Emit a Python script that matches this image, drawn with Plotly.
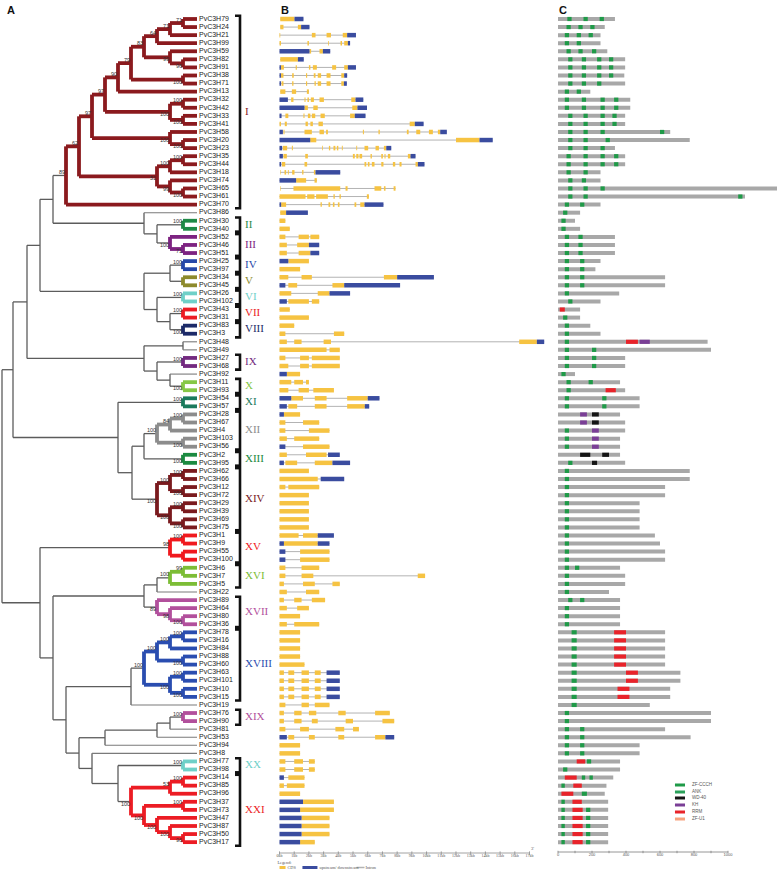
import plotly.graph_objects as go

# ---------------- data ----------------
LEAF_IDS = [79, 24, 21, 99, 59, 82, 91, 38, 71, 13, 32, 42, 33, 41, 58, 20, 23, 35, 44, 18,
            74, 65, 61, 70, 86, 30, 40, 52, 46, 51, 25, 97, 34, 45, 26, 102, 43, 31, 83, 3,
            48, 49, 27, 68, 92, 11, 93, 54, 57, 28, 67, 4, 103, 56, 2, 95, 62, 66, 12, 72,
            29, 39, 69, 75, 1, 9, 55, 100, 6, 7, 5, 22, 89, 64, 80, 36, 78, 16, 84, 88,
            60, 63, 101, 10, 15, 19, 76, 90, 81, 53, 94, 8, 77, 98, 14, 85, 96, 37, 73, 47,
            87, 50, 17]
LEAF_LABELS = ["PvC3H%d" % i for i in LEAF_IDS]

# Newick-like tree: (children)bootstrap:node_depth
T_I = ("((((((((((79,24)71:183,21)71:170,99)64:157,(59,(82,91)96:183)99:170)83:144,(38,71)100:183)79:131,13)90:118,"
       "((32,42)100:183,(33,41)100:183)100:170)97:105,(58,(20,23)100:183)100:170)97:92,"
       "(((35,44)100:183,18)100:170,(74,(65,61)100:183)99:170)51:157)62:79,70)89:66")
T_G1 = "(86,((30,40)100:183,(52,(46,51)71:183)100:170):157):144"
T_G2 = "(((25,97)100:183,(34,45):183):170,((26,102)100:183,((43,31)100:183,(83,3)100:183):170):157):144"
T_G3 = "((48,49):183,((27,68)100:183,(92,(11,93)100:183):170):157):144"
T_XII = "(((28,67)100:183,4)84:170,(103,56)100:183)100:157"
T_XIV = "(((62,66)100:183,(12,72)100:183)100:170,((29,39)100:183,(69,75)100:183)100:170)100:157"
T_A = ("(((" + T_I + "," + T_G1 + "):53," + T_G2 + "):40," + T_G3 + "):27,"
       + "((54,57)100:183,((" + T_XII + ",(2,95)100:183):144," + T_XIV + "):132):118")
T_XV = "((1,9)100:183,(55,100):183)98:170"
T_XVI = "((((6,7)99:183,5)100:170,22):157,(89,(64,(80,36)100:183)98:170)89:157):144"
T_XVIII = ("((((78,16)100:183,84)100:170,(88,60)100:183)100:157,"
           "((63,101)100:183,(10,15)100:183)100:170)100:144")
T_XXI = "(((14,85)100:183,96)53:170,((37,73)100:183,(47,(87,(50,17)96:183)100:170)100:157)100:144)100:131"
T_LOW = ("((" + T_XVIII + ",19):131,(((((76,90)100:183,81):170,53):157,94):105,"
         + "(8,((77,98)100:183," + T_XXI + "):118):92):79):66")
TREE = "((" + T_A + "):13,(" + T_XV + ",(" + T_XVI + "," + T_LOW + "):53):40):2"

CLADE_NAMES = ["I", "II", "III", "IV", "V", "VI", "VII", "VIII", "IX", "X", "XI", "XII", "XIII",
               "XIV", "XV", "XVI", "XVII", "XVIII", "XIX", "XX", "XXI"]
CLADE_MEMBERS = [
    LEAF_IDS[0:24], [30, 40], [52, 46, 51], [25, 97], [34, 45], [26, 102], [43, 31], [83, 3],
    [27, 68], [11, 93], [54, 57], [28, 67, 4, 103, 56], [2, 95], [62, 66, 12, 72, 29, 39, 69, 75],
    [1, 9, 55, 100], [6, 7, 5], [89, 64, 80, 36], [78, 16, 84, 88, 60, 63, 101, 10, 15],
    [76, 90], [77, 98], [14, 85, 96, 37, 73, 47, 87, 50, 17]]
CLADE_COLORS = ["#8b1a1e", "#1f8a46", "#7d2381", "#2748a8", "#8d8a2c", "#6fd0c8", "#ec1c24",
                "#1c2a68", "#732a80", "#86c846", "#1a7a5c", "#8c8c8c", "#1b8a40", "#7a1a1e",
                "#f0191e", "#7cbd36", "#b2509c", "#2a4db0", "#b2509c", "#6fd0c8", "#ec1c24"]
BRACKET_GROUPS = [["I"], ["II", "III", "IV", "V", "VI", "VII", "VIII"], ["IX"],
                  ["X", "XI", "XII", "XIII", "XIV", "XV", "XVI"], ["XVII", "XVIII"], ["XIX"], ["XX", "XXI"]]

# gene structures (kb): c = CDS, u = upstream/downstream
GENES = [
    "c0.05-1.02 u1.02-1.63",
    "c0.05-0.27 c1.25-1.47 u1.47-2.04",
    "c0-0.05 c2.2-2.45 c3.2-3.5 c4.3-4.6 u4.6-5.2",
    "c0-0.1 c1.9-2.0 c3.3-3.35 c4.15-4.25 c4.4-4.65 u4.65-4.8",
    "u0-2.04 c2.04-2.15 c2.72-2.95 u2.95-3.45",
    "c0.05-1.25 u1.25-1.65",
    "u0-0.1 c0.1-0.3 c1.1-1.18 c2.0-2.1 c2.27-2.54 c3.58-3.85 c4.4-4.65 u4.65-5.2",
    "u0-0.1 c0.1-0.27 c0.86-0.97 c1.8-1.88 c2.33-2.45 c2.6-2.83 c3.2-3.47 c4.2-4.4 u4.4-4.6",
    "u0-0.1 c0.14-0.27 c0.86-0.95 c1.8-1.88 c2.38-2.47 c2.6-2.83 c3.2-3.47 c4.2-4.38 u4.38-4.58",
    "c0.05-0.4 c0.84-1.13 c1.86-2.0",
    "u0-0.57 c0.79-0.95 c1.7-1.77 c1.9-2.0 c2.13-2.34 c2.72-3.02 c4.88-5.17 u5.17-5.7",
    "u0-1.7 c1.7-1.93 c2.3-2.6 c4.95-5.3 u5.3-5.95",
    "u0-0.14 c0.4-0.6 c1.63-1.7 c1.93-2.1 c2.2-2.43 c2.79-3.08 c4.8-5.12 u5.12-5.85",
    "c0-0.1 c0.36-0.5 c1.77-1.93 c2.1-2.27 c2.65-2.95 c8.85-9.2 u9.2-9.8",
    "u0-0.23 c0.27-0.34 c1.7-2.2 c2.72-3.02 c3.17-3.29 c5.67-5.74 c6.73-6.82 c8.66-8.78 c9.3-9.57 "
    "c10.16-10.43 c10.77-10.93 u10.93-11.38",
    "u0-2.09 c2.09-2.5 c12.0-13.6 u13.6-14.5",
    "u0-0.18 c0.23-0.52 c0.84-0.91 c2.9-2.95 c3.36-3.45 c3.67-3.8 c3.9-4.0 c4.24-4.3 c5.22-5.28 "
    "c5.78-6.03 c6.53-6.76 c7.1-7.26 u7.26-7.6",
    "u0-0.23 c0.27-0.5 c1.75-1.93 c4.99-5.12 c5.22-5.37 c5.44-5.62 c6.19-6.28 c6.92-7.03 c7.14-7.21 "
    "c7.37-7.53 c8.73-8.91 u8.91-9.25",
    "u0-0.11 c0.16-0.39 c1.7-1.88 c5.78-5.9 c6.01-6.12 c6.28-6.46 c6.92-7.07 c7.71-7.87 c8.16-8.3 "
    "c9.25-9.41 u9.41-9.86",
    "c0.05-0.09 c0.34-0.45 c0.57-0.63 c0.86-1.02 c1.54-1.63 c2.34-2.45 u2.45-4.13",
    "u0-1.13 c1.13-1.81 c2.38-2.54",
    "c0.05-0.09 c0.95-4.13 c4.49-4.63 c6.46-6.92 c7.1-7.21 c7.76-7.89",
    "c0-1.77 c1.88-2.38 c2.49-3.29 c3.67-3.76 c4.08-4.17 c5.94-6.08",
    "u0-0.11 c0.11-0.45 c2.79-2.88 c3.33-3.45 c3.63-3.74 c3.97-4.08 c5.1-5.22 c5.49-5.78 u5.78-7.07",
    "c0.05-0.45 u0.45-1.93",
    "c0-0.4", "c0-0.7", "c0-0.4 c1.3-2 c2.1-2.7", "c0-0.5 c1.2-2 u2-2.7",
    "c0-0.5 c1.3-2.1 u2.1-2.7", "u0-0.6 c0.6-2", "c0-1.4", "c0-0.6 c1.5-2.2 c7.1-8 u8-10.5",
    "u0-0.4 c0.6-1.2 c3.6-4.4 u4.4-8.2", "c0-0.8 c2.6-3.4 u3.4-4.8", "u0-0.5 c0.6-2 c2.2-2.7",
    "c0-0.7", "c0-2", "c0-1", "c0-0.4 c3.7-4.4",
    "c0-0.5 c1-1.5 c3-3.5 c16.3-17.5 u17.5-18", "c0-3.2 c3.4-4.1", "c0-0.4 c1.4-2 c2.2-4.1",
    "c0-0.6 c1.4-2 c2.2-4.1", "u0-0.5 c0.5-1.4", "c0-0.8 c1-1.6 c1.8-2", "c0-0.6 c1.3-2 c2.3-3.7",
    "u0-0.8 c0.8-1.6 c2.4-3.2 c4.6-6 u6-6.8", "u0-0.5 c0.6-1.2 c2.4-3.2 c4.6-5.8 u5.8-6.1",
    "u0-0.3 c0.3-1.4", "c0-0.4 c1.6-2.7", "c0-0.4 c2-3.4", "c0-0.5 c1-2.7", "u0-0.4 c1.6-3.4",
    "c0-0.5 c1.8-3.2 u3.3-4.1", "u0-0.3 c0.4-1.2 c2.4-3.6 u3.6-4.8",
    "c0-2", "c0-2.6 u2.8-4.4", "c0-0.4 c0.6-2.7", "c0-2", "c0-2", "c0-2", "c0-2", "c0-2",
    "c0-1.3 c1.6-2.6 u2.6-3.7", "u0-0.3 c0.3-2.6 u2.6-3.4", "u0-0.4 c1.4-3.4", "u0-0.4 c1.4-3.4",
    "c0-0.4 c1.5-2.7", "c0-0.4 c1.5-2.3 c9.4-9.9", "c0-0.3 c1.6-2.4 c3.6-4.1", "c0-0.5 c1.8-2.7",
    "c0-0.3 c1-1.5 c2.2-3.1", "c0-0.5 c1.2-2", "c0-1.4", "c0-0.5 c1-2.7",
    "c0-1.4", "c0-1.4", "c0-1.4", "c0-1.4", "c0-1.7",
    "c0-0.3 c0.6-1 c1.5-2 c2.4-2.8 u3.2-4.1", "c0-0.3 c0.6-1 c1.5-2 c2.4-2.8 u3.2-4.1",
    "c0-0.3 c0.6-1 c1.5-2 c2.4-2.8 u3.2-4.1", "c0-0.3 c0.6-1 c1.5-2 c2.4-2.8 u3.2-4.1",
    "c0-0.4 c1.5-2 c2.4-3.4", "c0-0.3 c1-1.5 c2-2.5 c4-4.5 c6.5-7.5",
    "c0-0.3 c1-1.5 c2.2-2.6 c4.5-5 c7-7.8", "c0-0.4 c1.4-2 c3.8-4.4 c5-5.4",
    "u0-0.5 c0.6-1 c2-2.4 c4-4.4 c6.5-7.2 u7.2-7.8", "c0-1.4", "c0-1.4",
    "c0-0.4 c1-1.6 c2-2.4", "c0-0.4 c1-1.6 c2-2.4", "u0-0.3 c0.6-1.7", "c0-0.3 c0.5-1.7", "c0-1.4",
    "u0-1.6 c1.6-3.7", "u0-1.4 c1.4-3.7", "u0-1.5 c1.5-3.4", "u0-1.5 c1.5-3.4", "u0-1.5 c1.5-3.4",
    "u0-1.4 c1.4-2.4"]
KB_TICKS = list(range(0, 18))
KB_LABELS = ["%dkb" % k for k in KB_TICKS]

# protein domains (aa): Z=ZF-CCCH A=ANK W=WD-40 K=KH R=RRM U=ZF-U1
PROTEINS = [
    "335|Z55-80 Z150-175 Z245-270", "275|Z50-75 Z120-145 Z190-215", "250|Z40-65 Z110-135 Z180-205",
    "250|Z40-65 Z110-135", "290|Z50-75 Z120-145 Z200-225", "395|Z60-85 Z140-165 Z230-255 Z300-325",
    "395|Z60-85 Z140-165 Z230-255 Z300-325", "390|Z60-85 Z140-165 Z230-255 Z300-325",
    "395|Z60-85 Z140-165 Z230-255", "190|Z40-65 Z110-135", "425|Z40-65 Z140-165 Z250-275 Z330-355",
    "425|Z40-65 Z140-165 Z250-275 Z330-355", "395|Z60-85 Z150-175 Z250-275 Z320-345",
    "395|Z60-85 Z150-175 Z250-275 Z320-345", "660|Z60-85 Z150-175 Z250-275 Z600-625",
    "775|Z60-85 Z150-175 Z280-305", "335|Z60-85 Z150-175 Z250-275", "395|Z50-75 Z150-175 Z250-275 Z330-355",
    "395|Z50-75 Z150-175 Z250-275 Z330-355", "250|Z50-75 Z150-175", "250|Z60-85 Z140-165",
    "1400|Z60-85 Z150-175 Z250-275", "1100|Z60-85 Z150-175 Z1060-1085", "250|Z40-65 Z130-155",
    "130|Z30-55", "100|Z20-45", "130|Z20-45", "335|Z40-65 Z120-145", "335|Z40-65 Z120-145",
    "335|Z40-65 Z120-145", "250|Z40-65 Z130-155", "220|Z40-65 Z130-155", "630|Z40-65 Z130-155",
    "630|Z40-65 Z130-155", "360|Z40-65", "250|Z60-85", "130|R10-40", "130|Z30-55", "190|Z40-65",
    "250|Z40-65", "880|Z40-65 R400-470 K480-540", "900|Z40-65 Z200-225", "395|Z40-65 Z200-225",
    "395|Z40-65 Z200-225", "100|Z20-45", "365|Z50-75 Z180-205", "395|Z50-75 R280-340",
    "480|Z40-65 Z260-285", "480|Z40-65 Z260-285", "365|K130-170 W200-240", "395|K130-170 W200-240",
    "395|Z40-65 K200-240", "365|Z40-65 K200-240", "365|Z40-65 K200-240", "365|W130-190 W260-300",
    "395|Z60-85 W200-230", "775|Z40-65", "775|Z40-65", "630|Z40-65", "630|Z40-65", "480|Z40-65",
    "480|Z40-65", "480|Z40-65", "480|Z40-65", "570|Z40-65", "600|Z40-65", "630|Z40-65", "630|Z40-65",
    "365|Z40-65 Z100-125", "395|Z40-65", "395|Z40-65", "300|Z40-65", "365|Z60-85 Z130-155",
    "365|Z40-65", "365|Z40-65", "365|Z40-65", "630|Z80-110 R330-400", "630|Z80-110 R330-400",
    "630|Z80-110 R330-400", "630|Z80-110 R330-400", "630|Z80-110 R330-400", "720|Z80-110 R400-470",
    "720|Z80-110 R400-470", "660|Z80-110 R350-420", "660|Z80-110 R350-420", "540|Z80-110",
    "900|Z40-65", "900|Z40-65", "630|Z40-65 Z130-155", "780|Z40-65 Z130-155", "480|Z40-65 Z130-155",
    "480|Z40-65 Z130-155", "365|R110-160 Z170-195", "365|Z30-55", "325|R40-110 Z140-160 Z185-205",
    "285|Z20-40 R90-140", "275|R20-90 Z140-170", "295|Z20-40 R85-140", "295|Z20-40 R85-145 Z165-190",
    "295|Z20-40 R85-145 Z165-190", "295|Z20-40 R85-145 Z165-190", "295|Z20-40 R85-145 Z165-190",
    "295|Z20-40 R85-145 Z165-190"]
DOMAIN_CODES = ["Z", "A", "W", "K", "R", "U"]
DOMAIN_NAMES = ["ZF-CCCH", "ANK", "WD-40", "KH", "RRM", "ZF-U1"]
DOMAIN_COLORS = ["#1f9a48", "#2aa15a", "#151515", "#7a3f96", "#e8232a", "#f7a27e"]
AA_TICKS = [0, 200, 400, 600, 800, 1000]
AA_MINOR = list(range(0, 1001, 100))

# ---------------- helpers ----------------
W, H = 777, 873
Y0, DY = 19.0, 8.07


def py(p):  # pixel row -> y index
    return (p - Y0) / DY


def parse(s):
    pos = [0]

    def num():
        t = ""
        while pos[0] < len(s) and (s[pos[0]].isdigit() or s[pos[0]] == "."):
            t += s[pos[0]]
            pos[0] += 1
        return t

    def node():
        if s[pos[0]] == "(":
            pos[0] += 1
            kids = [node()]
            while s[pos[0]] == ",":
                pos[0] += 1
                kids.append(node())
            pos[0] += 1
            boot = num()
            pos[0] += 1  # ':'
            x = float(num())
            return {"kids": kids, "boot": boot, "x": x}
        return {"leaf": int(num())}
    return node()


TIP_X = 197
root = parse(TREE)
leaf_index = {lid: i for i, lid in enumerate(LEAF_IDS)}
clade_of = {}
for name, mem in zip(CLADE_NAMES, CLADE_MEMBERS):
    for m in mem:
        clade_of[m] = name
clade_color = dict(zip(CLADE_NAMES, CLADE_COLORS))


def layout(n):
    if "leaf" in n:
        n["x"] = TIP_X
        n["y"] = leaf_index[n["leaf"]]
        n["leaves"] = [n["leaf"]]
        return
    for k in n["kids"]:
        layout(k)
    n["y"] = (n["kids"][0]["y"] + n["kids"][-1]["y"]) / 2
    n["leaves"] = sum((k["leaves"] for k in n["kids"]), [])


layout(root)


def node_clade(n):
    cs = {clade_of.get(l) for l in n["leaves"]}
    if len(cs) == 1 and None not in cs:
        return cs.pop()
    return None


segs = {}
boots_top, boots_bot = [], []


def add(key, x0, y0, x1, y1):
    segs.setdefault(key, ([], []))
    xs, ys = segs[key]
    xs += [x0, x1, None]
    ys += [y0, y1, None]


BACK = ("#5c5c5c", 1.3)


def draw(n):
    if "leaf" in n:
        return
    c = node_clade(n)
    key = (clade_color[c], 3.8) if c else BACK
    add(key, n["x"], n["kids"][0]["y"], n["x"], n["kids"][-1]["y"])
    for i, k in enumerate(n["kids"]):
        if "leaf" in k and not c:
            add(("#7a7a7a", 1.1), n["x"], k["y"], k["x"], k["y"])
        else:
            add(key, n["x"], k["y"], k["x"], k["y"])
        if "kids" in k and k["boot"]:
            (boots_top if i == 0 else boots_bot).append((k["x"] - 0.8, k["y"], k["boot"]))
        draw(k)


draw(root)

fig = go.Figure()
for (col, wd), (xs, ys) in segs.items():
    fig.add_trace(go.Scatter(x=xs, y=ys, mode="lines", line=dict(color=col, width=wd),
                             hoverinfo="skip", showlegend=False))

# bootstrap labels
for lst, pos in ((boots_top, "top left"), (boots_bot, "bottom left")):
    fig.add_trace(go.Scatter(x=[b[0] for b in lst], y=[b[1] for b in lst], text=[b[2] for b in lst],
                             mode="text", textposition=pos,
                             textfont=dict(size=5.5, color="#333333", family="Liberation Sans, Arial"),
                             hoverinfo="skip", showlegend=False, cliponaxis=False))

# leaf labels
fig.add_trace(go.Scatter(x=[199] * len(LEAF_LABELS), y=list(range(len(LEAF_LABELS))), text=LEAF_LABELS,
                         mode="text", textposition="middle right",
                         textfont=dict(size=7, color="#222222", family="Liberation Sans, Arial"),
                         hoverinfo="skip", showlegend=False, cliponaxis=False))

# brackets
BX = 240
bx, byv = [], []
notch_x, notch_y = [], []
for grp in BRACKET_GROUPS:
    idxs = [leaf_index[m] for g in grp for m in CLADE_MEMBERS[CLADE_NAMES.index(g)]]
    top, bot = min(idxs) - 0.4, max(idxs) + 0.45
    bx += [BX - 5, BX, BX, BX - 5, None]
    byv += [top, top, bot, bot, None]
    for g in grp[1:]:
        first = min(leaf_index[m] for m in CLADE_MEMBERS[CLADE_NAMES.index(g)])
        notch_x += [BX - 5, BX, None]
        notch_y += [first - 0.5, first - 0.5, None]
fig.add_trace(go.Scatter(x=bx, y=byv, mode="lines", line=dict(color="#111111", width=2.6),
                         hoverinfo="skip", showlegend=False))
fig.add_trace(go.Scatter(x=notch_x, y=notch_y, mode="lines", line=dict(color="#111111", width=5),
                         hoverinfo="skip", showlegend=False))
rx, ry, rt, rc = [], [], [], []
for name, mem, col in zip(CLADE_NAMES, CLADE_MEMBERS, CLADE_COLORS):
    idxs = [leaf_index[m] for m in mem]
    rx.append(BX + 5)
    ry.append((min(idxs) + max(idxs)) / 2)
    rt.append(name)
    rc.append(col)
fig.add_trace(go.Scatter(x=rx, y=ry, text=rt, mode="text", textposition="middle right",
                         textfont=dict(size=11, color=rc, family="Liberation Serif, Times New Roman"),
                         hoverinfo="skip", showlegend=False, cliponaxis=False))

# ---------------- panel B ----------------
ix, iy = [], []
cx, cy, ux, uy = [], [], [], []
for i, g in enumerate(GENES):
    parts = []
    for tok in g.split():
        a, b = tok[1:].split("-")
        parts.append((tok[0], float(a), float(b)))
    ix += [min(p[1] for p in parts), max(p[2] for p in parts), None]
    iy += [i, i, None]
    for t, a, b in parts:
        if t == "c":
            cx += [a, b, None]
            cy += [i, i, None]
        else:
            ux += [a, b, None]
            uy += [i, i, None]
CDS_C, UTR_C, INT_C = "#f6c342", "#3a4c9f", "#b3b3b3"
fig.add_trace(go.Scatter(x=ix, y=iy, xaxis="x2", mode="lines", line=dict(color=INT_C, width=1),
                         hoverinfo="skip", showlegend=False))
fig.add_trace(go.Scatter(x=cx, y=cy, xaxis="x2", mode="lines", line=dict(color=CDS_C, width=4.5),
                         hoverinfo="skip", showlegend=False))
fig.add_trace(go.Scatter(x=ux, y=uy, xaxis="x2", mode="lines", line=dict(color=UTR_C, width=4.5),
                         hoverinfo="skip", showlegend=False))
# axis B
AXB = py(853)
tx, ty = [KB_TICKS[0], KB_TICKS[-1], None], [AXB, AXB, None]
for k in KB_TICKS:
    tx += [k, k, None]
    ty += [AXB - 0.2, AXB + 0.2, None]
fig.add_trace(go.Scatter(x=tx, y=ty, xaxis="x2", mode="lines", line=dict(color="#8a8a8a", width=0.8),
                         hoverinfo="skip", showlegend=False))
fig.add_trace(go.Scatter(x=KB_TICKS, y=[AXB + 0.15] * len(KB_TICKS), text=KB_LABELS, xaxis="x2",
                         mode="text", textposition="bottom center",
                         textfont=dict(size=4, color="#555555", family="Liberation Serif"),
                         hoverinfo="skip", showlegend=False, cliponaxis=False))
fig.add_trace(go.Scatter(x=[-0.68, 17.2], y=[py(849)] * 2, text=["5'", "3'"], xaxis="x2",
                         mode="text", textposition="middle center",
                         textfont=dict(size=4.5, color="#555555", family="Liberation Serif"),
                         hoverinfo="skip", showlegend=False, cliponaxis=False))
# legend B
LY = py(867.5)
fig.add_trace(go.Scatter(x=[0, 0.41], y=[LY, LY], xaxis="x2", mode="lines",
                         line=dict(color=CDS_C, width=3), hoverinfo="skip", showlegend=False))
fig.add_trace(go.Scatter(x=[1.56, 2.58], y=[LY, LY], xaxis="x2", mode="lines",
                         line=dict(color=UTR_C, width=3), hoverinfo="skip", showlegend=False))
fig.add_trace(go.Scatter(x=[5.24, 5.78], y=[LY, LY], xaxis="x2", mode="lines",
                         line=dict(color=INT_C, width=1.5), hoverinfo="skip", showlegend=False))
fig.add_trace(go.Scatter(x=[-0.14, 0.54, 2.72, 5.85], y=[py(862.5), LY, LY, LY],
                         text=["Legend:", "CDS", "upstream/ downstream", "Intron"], xaxis="x2",
                         mode="text", textposition="middle right",
                         textfont=dict(size=4.3, color="#555555", family="Liberation Serif"),
                         hoverinfo="skip", showlegend=False, cliponaxis=False))

# ---------------- panel C ----------------
px_, py_ = [], []
dom = {c: ([], []) for c in DOMAIN_CODES}
for i, p in enumerate(PROTEINS):
    ln, ds = p.split("|")
    px_ += [0, float(ln), None]
    py_ += [i, i, None]
    for tok in ds.split():
        a, b = tok[1:].split("-")
        dom[tok[0]][0].extend([float(a), float(b), None])
        dom[tok[0]][1].extend([i, i, None])
fig.add_trace(go.Scatter(x=px_, y=py_, xaxis="x3", mode="lines", line=dict(color="#a8a8a8", width=4),
                         hoverinfo="skip", showlegend=False))
for c, col in zip(DOMAIN_CODES, DOMAIN_COLORS):
    if dom[c][0]:
        fig.add_trace(go.Scatter(x=dom[c][0], y=dom[c][1], xaxis="x3", mode="lines",
                                 line=dict(color=col, width=4.2), hoverinfo="skip", showlegend=False))
AXC = py(852)
tx, ty = [0, 1000, None], [AXC, AXC, None]
for k in AA_MINOR:
    tx += [k, k, None]
    ty += [AXC - 0.15, AXC + 0.15, None]
fig.add_trace(go.Scatter(x=tx, y=ty, xaxis="x3", mode="lines", line=dict(color="#8a8a8a", width=0.9),
                         hoverinfo="skip", showlegend=False))
fig.add_trace(go.Scatter(x=AA_TICKS, y=[AXC + 0.15] * len(AA_TICKS), text=[str(t) for t in AA_TICKS],
                         xaxis="x3", mode="text", textposition="bottom center",
                         textfont=dict(size=4, color="#555555", family="Liberation Sans"),
                         hoverinfo="skip", showlegend=False, cliponaxis=False))
# legend C
LEG_Y = [py(v) for v in (785, 792, 798, 805, 812, 819)]
for name, col, yy in zip(DOMAIN_NAMES, DOMAIN_COLORS, LEG_Y):
    fig.add_trace(go.Scatter(x=[688, 747], y=[yy, yy], xaxis="x3", mode="lines",
                             line=dict(color=col, width=3), hoverinfo="skip", showlegend=False))
fig.add_trace(go.Scatter(x=[788] * 6, y=LEG_Y, text=DOMAIN_NAMES, xaxis="x3", mode="text",
                         textposition="middle right",
                         textfont=dict(size=4.5, color="#555555", family="Liberation Sans"),
                         hoverinfo="skip", showlegend=False, cliponaxis=False))

# ---------------- layout ----------------
XA0, XA1 = 0, 275
XB0, XB1 = 275, 552
KB_PX, KB0 = 14.706, 279.5
AA_PX, AA0 = 0.17, 558
hidden = dict(visible=False, showgrid=False, zeroline=False, fixedrange=True)
fig.update_layout(
    width=W, height=H, autosize=False, margin=dict(l=0, r=0, t=0, b=0),
    paper_bgcolor="white", plot_bgcolor="white", showlegend=False, hovermode=False,
    xaxis=dict(domain=[XA0 / W, XA1 / W], range=[XA0, XA1], anchor="y", **hidden),
    xaxis2=dict(domain=[XB0 / W, XB1 / W], range=[(XB0 - KB0) / KB_PX, (XB1 - KB0) / KB_PX],
                anchor="y", **hidden),
    xaxis3=dict(domain=[XB1 / W, 1], range=[(XB1 - AA0) / AA_PX, (W - AA0) / AA_PX], anchor="y", **hidden),
    yaxis=dict(domain=[0, 1], range=[py(H), py(0)], **hidden),
    annotations=[
        dict(text="<b>%s</b>" % t, x=xp / W, y=1 - 10 / H, xref="paper", yref="paper", showarrow=False,
             xanchor="left", yanchor="middle", font=dict(size=11, family="Liberation Sans, Arial", color="#111"))
        for t, xp in (("A", 5), ("B", 279), ("C", 557))],
)
fig.write_html("out.html", config={"displayModeBar": False},
               post_script="document.body.style.margin='0px';document.body.style.overflow='hidden';")
